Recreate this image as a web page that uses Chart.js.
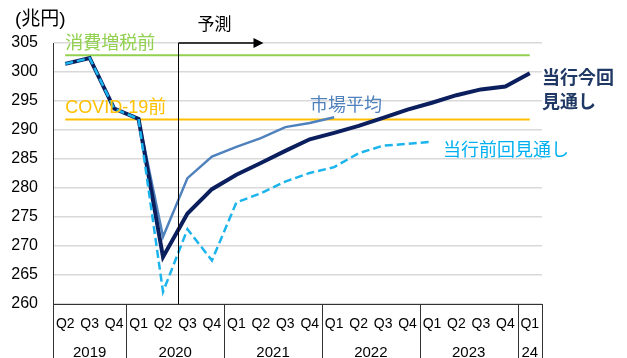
<!DOCTYPE html>
<html>
<head>
<meta charset="utf-8">
<script src="https://cdn.jsdelivr.net/npm/chart.js"></script>
<style>
  html, body { margin: 0; padding: 0; background: #fff; }
  #wrap { width: 627px; height: 358px; position: relative; }
</style>
</head>
<body>
<div id="wrap"><canvas id="c" width="627" height="358"></canvas></div>
<script>
// ---- data ----
const quarters = ["Q2","Q3","Q4","Q1","Q2","Q3","Q4","Q1","Q2","Q3","Q4","Q1","Q2","Q3","Q4","Q1","Q2","Q3","Q4","Q1"];
const years = ["2019","2020","2021","2022","2023","24"];
const yearCounts = [3, 4, 4, 4, 4, 1];
const currentForecast = [301.4, 302.4, 293.7, 291.9, 268.1, 275.6, 279.8, 282.3, 284.3, 286.4, 288.4, 289.5, 290.7, 292.1, 293.5, 294.7, 296.0, 297.0, 297.5, 299.8];
const marketAverage = [null, null, null, 291.9, 271.6, 281.7, 285.4, 287.1, 288.6, 290.5, 291.2, 292.2, null, null, null, null, null, null, null, null];
const previousForecast = [301.4, 302.4, 293.7, 291.9, 262.1, 272.9, 267.5, 277.5, 279.1, 281.1, 282.6, 283.6, 286.0, 287.3, 287.6, 288.0, null, null, null, null];
const preTaxHike = 302.9;
const preCovid = 291.8;
const yTicks = [260, 265, 270, 275, 280, 285, 290, 295, 300, 305];
const forecastStartIndex = 5;

const FONT = "'Liberation Sans', Arial, 'Noto Sans CJK JP', sans-serif";
const JFONT = "'Liberation Sans', 'Noto Sans CJK JP', sans-serif";

const overlay = {
  id: 'overlay',
  afterDraw(chart) {
    const ctx = chart.ctx;
    const x = chart.scales.x, y = chart.scales.y;
    const area = chart.chartArea;
    const px = i => x.getPixelForValue(i);
    const step = px(1) - px(0);
    const bottom = chart.height;
    ctx.save();
    // x-axis group box lines
    ctx.strokeStyle = '#333';
    ctx.lineWidth = 1;
    let idx = 0;
    const bounds = [px(0) - step / 2];
    yearCounts.forEach(c => { idx += c; bounds.push(px(idx - 1) + step / 2); });
    bounds.forEach((bx, k) => {
      ctx.beginPath();
      const top = (k === 0) ? area.top : area.bottom;
      ctx.moveTo(Math.round(bx) + 0.5, top);
      ctx.lineTo(Math.round(bx) + 0.5, bottom);
      ctx.stroke();
    });
    // year labels
    ctx.fillStyle = '#000';
    ctx.font = '15px ' + FONT;
    ctx.textAlign = 'center';
    ctx.textBaseline = 'middle';
    for (let k = 0; k < years.length; k++) {
      ctx.fillText(years[k], (bounds[k] + bounds[k + 1]) / 2, 353);
    }
    // forecast vertical line & arrow
    const fx = Math.round((px(forecastStartIndex - 1) + px(forecastStartIndex)) / 2 + 3) + 0.5;
    const ty = y.getPixelForValue(305);
    ctx.strokeStyle = '#000';
    ctx.lineWidth = 1;
    ctx.beginPath();
    ctx.moveTo(fx, ty);
    ctx.lineTo(fx, area.bottom);
    ctx.stroke();
    const ax = fx + 85;
    ctx.lineWidth = 1.5;
    ctx.beginPath();
    ctx.moveTo(fx, ty);
    ctx.lineTo(ax - 8, ty);
    ctx.stroke();
    ctx.fillStyle = '#000';
    ctx.beginPath();
    ctx.moveTo(ax, ty);
    ctx.lineTo(ax - 10, ty - 5);
    ctx.lineTo(ax - 10, ty + 5);
    ctx.closePath();
    ctx.fill();
    // texts
    ctx.textAlign = 'left';
    ctx.textBaseline = 'middle';
    ctx.fillStyle = '#000';
    ctx.font = '19px ' + JFONT;
    ctx.fillText('(兆円)', 15, 20);
    ctx.font = '17px ' + JFONT;
    ctx.fillText('予測', fx + 19, 25);
    ctx.font = '18px ' + JFONT;
    ctx.fillStyle = '#92D050';
    ctx.fillText('消費増税前', px(0), y.getPixelForValue(preTaxHike) - 11);
    ctx.fillStyle = '#FFC000';
    ctx.fillText('COVID-19前', px(0), y.getPixelForValue(preCovid) - 12);
    ctx.fillStyle = '#4F81BD';
    ctx.fillText('市場平均', 310, 106);
    ctx.fillStyle = '#00B0F0';
    ctx.fillText('当行前回見通し', 443, 151);
    ctx.fillStyle = '#1F3864';
    ctx.font = 'bold 18px ' + JFONT;
    ctx.fillText('当行今回', 542, 79);
    ctx.fillText('見通し', 542, 103);
    ctx.restore();
  }
};

new Chart(document.getElementById('c'), {
  type: 'line',
  data: {
    labels: quarters,
    datasets: [
      { label: '当行前回見通し', data: previousForecast, borderColor: '#1CB4EC', borderWidth: 2.5, borderDash: [8, 4], pointRadius: 0, tension: 0, fill: false, spanGaps: false },
      { label: '当行今回見通し', data: currentForecast, borderColor: '#0B1F5E', borderWidth: 4, pointRadius: 0, tension: 0, fill: false },
      { label: '市場平均', data: marketAverage, borderColor: '#4F81BD', borderWidth: 2.5, pointRadius: 0, tension: 0, fill: false },
      { label: '消費増税前', data: quarters.map(() => preTaxHike), borderColor: '#92D050', borderWidth: 2, pointRadius: 0, fill: false },
      { label: 'COVID-19前', data: quarters.map(() => preCovid), borderColor: '#FFC000', borderWidth: 2, pointRadius: 0, fill: false }
    ]
  },
  options: {
    responsive: false,
    animation: false,
    devicePixelRatio: 1,
    layout: { padding: { top: 43, right: 85, left: 0, bottom: 0 } },
    plugins: { legend: { display: false }, tooltip: { enabled: false } },
    scales: {
      x: {
        type: 'category',
        offset: true,
        grid: { display: false, drawTicks: false },
        border: { display: true, color: '#333', width: 1 },
        ticks: { color: '#000', font: { family: FONT, size: 14 }, padding: 12, maxRotation: 0, autoSkip: false },
        afterFit(s) { s.height = 54; }
      },
      y: {
        min: 260, max: 305,
        afterBuildTicks(s) { s.ticks = yTicks.map(v => ({ value: v })); },
        grid: { color: '#D9D9D9', lineWidth: 1.5, drawTicks: false },
        border: { display: true, color: '#333', width: 1 },
        ticks: { color: '#000', font: { family: FONT, size: 16 }, padding: 15 },
        afterFit(s) { s.width = 53; }
      }
    }
  },
  plugins: [overlay]
});
</script>
</body>
</html>
